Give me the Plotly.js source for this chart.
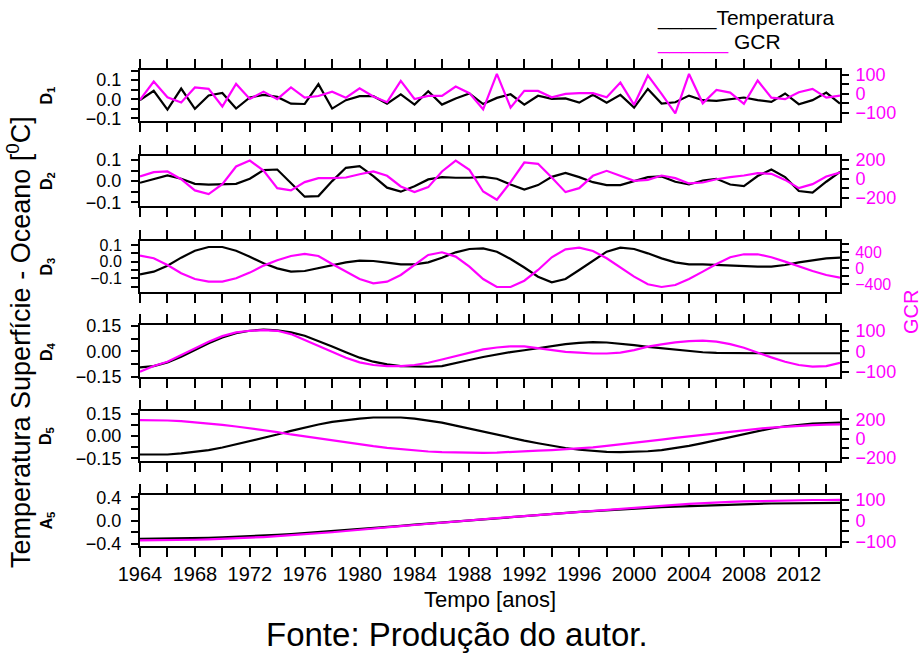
<!DOCTYPE html>
<html><head><meta charset="utf-8">
<script src="https://cdn.plot.ly/plotly-3.0.1.min.js"></script>
<style>html,body{margin:0;padding:0;background:#fff}#chart{width:923px;height:653px}</style>
</head><body><div id="chart"></div>
<script>
const years = [1964,1965,1966,1967,1968,1969,1970,1971,1972,1973,1974,1975,1976,1977,1978,1979,1980,1981,1982,1983,1984,1985,1986,1987,1988,1989,1990,1991,1992,1993,1994,1995,1996,1997,1998,1999,2000,2001,2002,2003,2004,2005,2006,2007,2008,2009,2010,2011,2012,2013,2014,2015];

const tempD1 = [-0.005,0.044,-0.054,0.056,-0.05,0.02,0.033,-0.049,0.009,0.023,0.012,-0.023,-0.025,0.079,-0.049,-0.005,0.016,0.016,-0.023,0.025,-0.028,0.042,-0.028,0.004,0.03,-0.025,0.007,0.026,-0.028,0.018,0.002,0.004,-0.018,0.023,-0.018,0.023,-0.044,0.054,-0.023,-0.016,0.019,-0.005,-0.009,0,0.009,-0.005,-0.014,0.03,-0.026,-0.005,0.035,-0.023];
const gcrD1 = [-32,66,-18,-46,34,27,-67,53,-27,12,-28,35,-20,-11,12,-20,30,-14,-44,69,-27,-11,-11,39,4,-82,106,-73,16,16,-18,0,4,4,-18,60,-58,98,0,-103,106,-50,21,7,-53,71,-20,-28,9,27,-20,-9];

const tempD2 = [-0.008,0.011,0.027,0.011,-0.013,-0.017,-0.014,-0.013,0.011,0.052,0.055,-0.008,-0.074,-0.071,0,0.063,0.071,0.024,-0.031,-0.05,-0.024,0.008,0.019,0.016,0.016,0.02,0.011,-0.016,-0.04,-0.019,0.02,0.039,0.019,-0.005,-0.019,-0.019,0,0.019,0.022,-0.003,-0.016,0.003,0.011,-0.016,-0.024,0.024,0.055,0.019,-0.047,-0.055,-0.003,0.044];
const gcrD2 = [25,71,78,-4,-123,-162,-56,131,194,88,-99,-123,-35,7,7,14,49,78,32,-81,-141,-88,78,194,95,-134,-222,-35,173,159,14,-141,-99,32,85,32,-21,-11,35,7,-49,-39,-4,18,35,60,53,-11,-99,-56,25,67];

const tempD3 = [-0.076,-0.06,-0.024,0.024,0.066,0.088,0.088,0.066,0.03,-0.01,-0.04,-0.06,-0.056,-0.04,-0.02,-0.004,0.006,0.004,-0.006,-0.016,-0.016,-0.004,0.024,0.056,0.076,0.08,0.06,0.016,-0.035,-0.09,-0.124,-0.104,-0.05,0.004,0.06,0.084,0.076,0.05,0.02,-0.004,-0.016,-0.016,-0.02,-0.024,-0.028,-0.03,-0.03,-0.02,-0.004,0.01,0.02,0.024];
const gcrD3 = [317,250,83,-125,-267,-333,-333,-250,-108,67,200,308,358,308,108,-83,-267,-375,-333,-167,83,333,400,292,42,-267,-467,-467,-310,-42,275,475,517,433,250,17,-208,-400,-467,-417,-267,-83,108,275,350,350,275,167,42,-67,-167,-233];

const tempD4 = [-0.096,-0.088,-0.066,-0.032,0.008,0.048,0.082,0.108,0.122,0.128,0.124,0.112,0.092,0.062,0.028,-0.006,-0.038,-0.062,-0.078,-0.088,-0.092,-0.092,-0.088,-0.072,-0.052,-0.034,-0.018,-0.005,0.006,0.018,0.032,0.042,0.05,0.054,0.052,0.046,0.036,0.026,0.017,0.008,0,-0.006,-0.01,-0.012,-0.012,-0.012,-0.012,-0.012,-0.012,-0.012,-0.012,-0.012];
const gcrD4 = [-98,-71,-50,-18,15,47,74,92,100,103,100,84,55,26,-5,-31,-53,-66,-71,-71,-66,-55,-39,-23,-6,10,19,25,24,15,6,-2,-6,-10,-10,-6,6,23,34,44,50,52,47,35,18,-6,-29,-50,-66,-74,-71,-55];

const tempD5 = [-0.124,-0.126,-0.124,-0.117,-0.108,-0.095,-0.077,-0.056,-0.034,-0.011,0.011,0.036,0.059,0.079,0.097,0.11,0.119,0.126,0.128,0.126,0.119,0.107,0.091,0.071,0.05,0.03,0.01,-0.01,-0.03,-0.048,-0.065,-0.08,-0.092,-0.101,-0.106,-0.108,-0.107,-0.102,-0.094,-0.082,-0.066,-0.047,-0.027,-0.006,0.015,0.035,0.053,0.067,0.078,0.085,0.089,0.092];
const gcrD5 = [191,191,187,181,170,156,142,125,108,87,66,42,21,0,-21,-42,-62,-80,-97,-111,-125,-135,-142,-146,-149,-149,-146,-142,-135,-127,-120,-113,-104,-92,-77,-62,-46,-29,-12,6,23,40,56,72,87,101,114,125,134,140,144,146];

const tempA5 = [-0.31,-0.309,-0.307,-0.304,-0.3,-0.294,-0.287,-0.278,-0.268,-0.256,-0.243,-0.229,-0.213,-0.197,-0.18,-0.162,-0.144,-0.126,-0.107,-0.088,-0.069,-0.05,-0.031,-0.012,0.007,0.026,0.045,0.064,0.082,0.1,0.117,0.134,0.15,0.165,0.18,0.194,0.207,0.219,0.231,0.242,0.252,0.261,0.269,0.277,0.283,0.289,0.294,0.298,0.301,0.303,0.304,0.305];
const gcrA5 = [-94,-94,-93,-92,-91,-89,-87,-84,-81,-78,-74,-70,-65,-60,-55,-49,-44,-38,-32,-26,-20,-14,-8,-3,2,7,13,18,23,29,34,39,45,50,55,60,64,69,73,77,81,85,88,91,93,95,97,98,99,100,100,101];

const panelLabels = ['D<sub>1</sub>','D<sub>2</sub>','D<sub>3</sub>','D<sub>4</sub>','D<sub>5</sub>','A<sub>5</sub>'];
const tempSeries = [tempD1,tempD2,tempD3,tempD4,tempD5,tempA5];
const gcrSeries = [gcrD1,gcrD2,gcrD3,gcrD4,gcrD5,gcrA5];
const xTickYears = [1964,1968,1972,1976,1980,1984,1988,1992,1996,2000,2004,2008,2012];

// layout geometry (pixels)
const W = 923, H = 653, ML = 140, MR = 83, MT = 70, MB = 107;
const PW = W - ML - MR, PH = H - MT - MB;
const panelPx = [[70,121],[156,206],[241,292],[325,377],[411,461],[495,546]];
const leftRange = [[-0.114,0.153],[-0.118,0.119],[-0.182,0.124],[-0.153,0.156],[-0.168,0.170],[-0.434,0.44]];
const leftDtick = [0.1,0.1,0.1,0.15,0.15,0.4];
const leftFmt = ['.1f','.1f','.1f','.2f','.2f','.1f'];
const leftFont = [18,18,16,18,18,18];
const rightRange = [[-144,127],[-288,242],[-592,682],[-124,128],[-234,286],[-121,124]];
const rightDtick = [100,200,400,100,200,100];
const rightFont = [18,18,16,18,18,18];

const MAG = '#ff00ff';
const FONT = 'Liberation Sans, Arial, sans-serif';
const py = p => (H - MB - p) / PH;
const px = p => (p - ML) / PW;

const data = [];
const layout = {
  width: W, height: H,
  margin: {l: ML, r: MR, t: MT, b: MB},
  paper_bgcolor: '#fff', plot_bgcolor: '#fff',
  showlegend: false,
  font: {family: FONT, size: 20, color: '#000'},
  annotations: [],
  shapes: []
};

for (let i = 0; i < 6; i++) {
  const n = i + 1;
  const xid = n === 1 ? 'x' : 'x' + n;
  const yl = 2 * i + 1, yr = 2 * i + 2;
  const ylid = yl === 1 ? 'y' : 'y' + yl;
  const yrid = 'y' + yr;
  const dom = [py(panelPx[i][1]), py(panelPx[i][0])];

  data.push({x: years, y: tempSeries[i], type: 'scatter', mode: 'lines',
    name: 'Temperatura', xaxis: xid, yaxis: ylid, line: {color: '#000', width: 2.2}});
  data.push({x: years, y: gcrSeries[i], type: 'scatter', mode: 'lines',
    name: 'GCR', xaxis: xid, yaxis: yrid, line: {color: MAG, width: 2.2}});

  layout[n === 1 ? 'xaxis' : 'xaxis' + n] = {
    domain: [0, 1], anchor: ylid, range: [1964, 2015],
    tickvals: xTickYears, ticks: 'outside', ticklen: 9, tickwidth: 2, tickcolor: '#000',
    minor: {dtick: 2, tick0: 1964, ticks: 'outside', ticklen: 5, tickwidth: 2, tickcolor: '#000'},
    showline: true, linewidth: 2, linecolor: '#000', mirror: 'allticks',
    showgrid: false, zeroline: false,
    showticklabels: n === 6, tickfont: {size: 20, family: FONT}
  };
  if (n === 6) {
    layout['xaxis6'].title = {text: 'Tempo [anos]', font: {size: 22, family: FONT}, standoff: 8};
  }
  layout[yl === 1 ? 'yaxis' : 'yaxis' + yl] = {
    domain: dom, anchor: xid, range: leftRange[i],
    dtick: leftDtick[i], tick0: 0, tickformat: leftFmt[i],
    ticks: 'outside', ticklen: 7, tickwidth: 2, tickcolor: '#000', ticklabelstandoff: 6,
    minor: {dtick: leftDtick[i] / 2, tick0: 0, ticks: 'outside', ticklen: 7, tickwidth: 2, tickcolor: '#000'},
    showline: true, linewidth: 2, linecolor: '#000', mirror: true,
    showgrid: false, zeroline: false, tickfont: {size: leftFont[i], family: FONT, color: '#000'}
  };
  layout['yaxis' + yr] = {
    overlaying: ylid, side: 'right', anchor: xid, range: rightRange[i],
    dtick: rightDtick[i], tick0: 0,
    ticks: 'outside', ticklen: 7, tickwidth: 2, tickcolor: '#000', ticklabelstandoff: 3,
    minor: {dtick: rightDtick[i] / 2, tick0: 0, ticks: 'outside', ticklen: 7, tickwidth: 2, tickcolor: '#000'},
    showline: true, linewidth: 2, linecolor: '#000',
    showgrid: false, zeroline: false, tickfont: {size: rightFont[i], family: FONT, color: MAG}
  };
  layout.annotations.push({
    text: '<b>' + panelLabels[i] + '</b>', xref: 'paper', yref: 'paper',
    x: px(47), y: (dom[0] + dom[1]) / 2, xanchor: 'center', yanchor: 'middle',
    textangle: -90, showarrow: false, font: {size: 16, family: FONT, color: '#000'}
  });
}

layout.annotations.push({
  text: 'Temperatura Superfície - Oceano [<sup>0</sup>C]', xref: 'paper', yref: 'paper',
  x: px(19), y: py(342), xanchor: 'center', yanchor: 'middle', textangle: -90,
  showarrow: false, font: {size: 27, family: FONT, color: '#000'}
});
layout.annotations.push({
  text: 'GCR', xref: 'paper', yref: 'paper',
  x: px(911), y: py(312), xanchor: 'center', yanchor: 'middle', textangle: -90,
  showarrow: false, font: {size: 20, family: FONT, color: MAG}
});
layout.annotations.push({
  text: '_____Temperatura', xref: 'paper', yref: 'paper',
  x: px(655), y: py(18), xanchor: 'left', yanchor: 'middle',
  showarrow: false, font: {size: 21, family: FONT, color: '#000'}
});
layout.annotations.push({
  text: '<span style="color:#ff00ff">______</span> GCR', xref: 'paper', yref: 'paper',
  x: px(655), y: py(42), xanchor: 'left', yanchor: 'middle',
  showarrow: false, font: {size: 21, family: FONT, color: '#000'}
});
layout.annotations.push({
  text: 'Fonte: Produção do autor.', xref: 'paper', yref: 'paper',
  x: px(457), y: py(634), xanchor: 'center', yanchor: 'middle',
  showarrow: false, font: {size: 33, family: FONT, color: '#000'}
});

Plotly.newPlot('chart', data, layout, {displayModeBar: false, staticPlot: true});
</script>
</body></html>
